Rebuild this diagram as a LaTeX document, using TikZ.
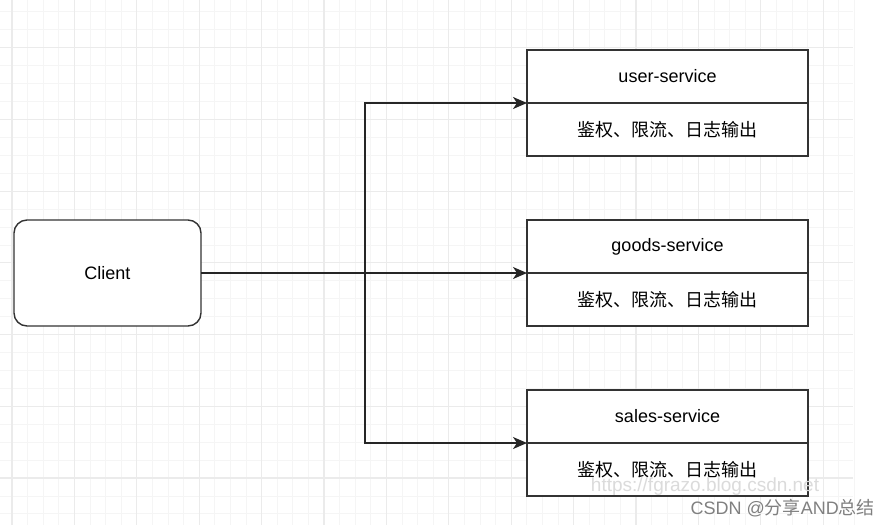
\documentclass[tikz,border=0pt]{standalone}
\usepackage{fontspec}
\setmainfont{Liberation Sans}
\newfontfamily\cjk{Noto Sans CJK SC}
\usetikzlibrary{arrows.meta}

\tikzset{
  minorgrid/.style={draw=black!4, line width=0.8pt},
  majorgrid/.style={draw=black!8, line width=1.2pt},
  svcbox/.style={draw=black!80, line width=1.4pt, fill=white, minimum width=281pt,
    minimum height=53pt, inner sep=0pt, outer sep=0pt, font=\fontsize{18}{20}\selectfont},
  clientbox/.style={draw=black!80, line width=1.4pt, fill=white, rounded corners=13pt,
    minimum width=187pt, minimum height=106pt, inner sep=0pt, outer sep=0pt,
    font=\fontsize{18}{20}\selectfont},
  link/.style={draw=black!85, line width=1.5pt, -{Stealth[length=14pt,width=12pt,inset=4pt]}},
}

\begin{document}
\begin{tikzpicture}[x=1pt, y=-1pt]
            \useasboundingbox[fill=white](0, 0) rectangle (890, 525);

            % background grid
            \foreach \i in {0,...,54}
                \draw[minorgrid]({12+15.6*\i}, 0) -- ({12+15.6*\i}, 525);
            \foreach \i in {-2,...,26}
                \draw[minorgrid](0, {47.7+17.93*\i}) -- (853, {47.7+17.93*\i});
            \foreach \i in {0,...,13}
                \draw[majorgrid]({12+62.4*\i}, 0) -- ({12+62.4*\i}, 525);
            \foreach \i in {0,...,6}
                \draw[majorgrid](0, {47.7+71.7*\i}) -- (853, {47.7+71.7*\i});

            \node[clientbox] at(107.5, 273)(client){Client};

            \node[svcbox] at(667.5, 76.5)(user){user-service};
            \node[svcbox] at(667.5, 129.5)(userfn){\cjk 鉴权、限流、日志输出};

            \node[svcbox] at(667.5, 246.5)(goods){goods-service};
            \node[svcbox] at(667.5, 299.5)(goodsfn){\cjk 鉴权、限流、日志输出};

            \node[svcbox] at(667.5, 416.5)(sales){sales-service};
            \node[svcbox] at(667.5, 469.5)(salesfn){\cjk 鉴权、限流、日志输出};

            \coordinate (fork) at(365, 273);
            \draw[link](client.east) -- (goods.south west);
            \draw[link](fork) |- (user.south west);
            \draw[link](fork) |- (sales.south west);

            % watermark
            \node[text=black!14, inner sep=0pt, font=\fontsize{19}{20}\selectfont] at(705, 487)(url){https://fgrazo.blog.csdn.net};
            \node[text=black!50, inner sep=0pt, font=\fontsize{18}{20}\selectfont, anchor=east] at(875, 508)(mark){CSDN @{\cjk 分享}AND{\cjk 总结}};
\end{tikzpicture}
\end{document}
